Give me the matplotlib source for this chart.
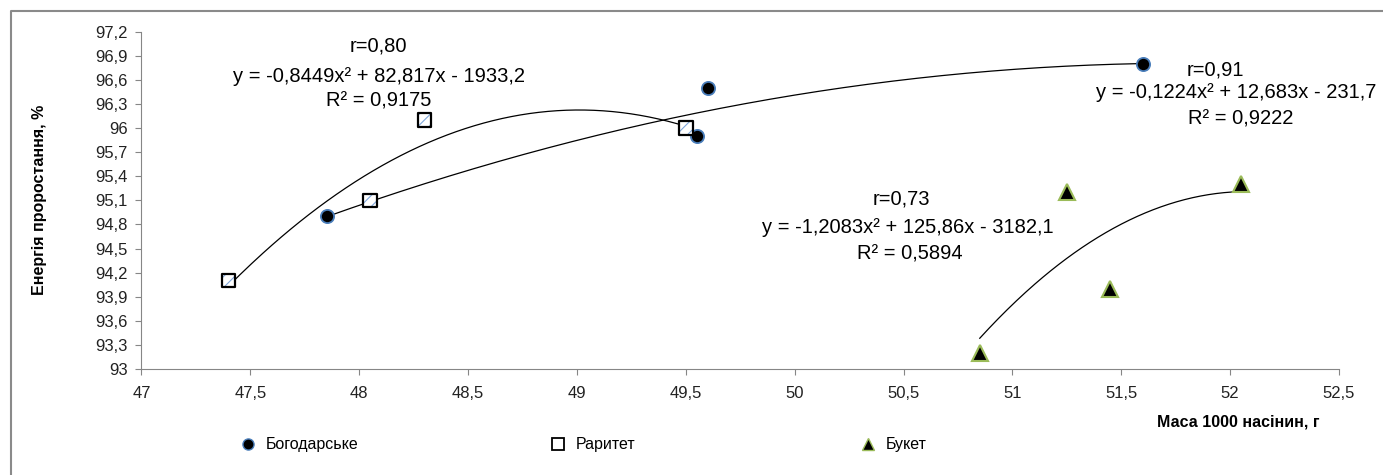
import numpy as np
import matplotlib
matplotlib.use('Agg')
import matplotlib.pyplot as plt
from matplotlib.lines import Line2D

plt.rcParams['font.family'] = ['Liberation Sans', 'DejaVu Sans']
plt.rcParams['hatch.linewidth'] = 0.8

# data
names = ['Богодарське', 'Раритет', 'Букет']
bog_x = [47.85, 49.55, 49.6, 51.6]
bog_y = [94.9, 95.9, 96.5, 96.8]
rar_x = [47.4, 48.05, 48.3, 49.5]
rar_y = [94.1, 95.1, 96.1, 96.0]
buk_x = [50.85, 51.25, 51.45, 52.05]
buk_y = [93.2, 95.2, 94.0, 95.3]

labels_r = ['r=0,91', 'r=0,80', 'r=0,73']
labels_eq = ['y = -0,1224x² + 12,683x - 231,7',
             'y = -0,8449x² + 82,817x - 1933,2',
             'y = -1,2083x² + 125,86x - 3182,1']
labels_r2 = ['R² = 0,9222', 'R² = 0,9175', 'R² = 0,5894']

yticks = np.round(np.arange(93, 97.21, 0.3), 1)
xticks = np.arange(47, 52.51, 0.5)

fig = plt.figure(figsize=(13.83, 4.75), dpi=100)
ax = fig.add_axes([0.1023, 0.2232, 0.8659, 0.7101])

# trend lines (2nd order polynomial, like excel)
for xs, ys in [(bog_x, bog_y), (rar_x, rar_y), (buk_x, buk_y)]:
    p = np.polyfit(xs, ys, 2)
    xx = np.linspace(min(xs), max(xs), 200)
    ax.plot(xx, np.polyval(p, xx), color='black', lw=0.9, zorder=2)

# markers
ax.plot(bog_x, bog_y, 'o', ms=9.5, mfc='black', mec='#4a7ebb', mew=1.3, zorder=4)
ax.scatter(rar_x, rar_y, marker='s', s=95, facecolor='white', edgecolor='#7ea6da',
           hatch='///', linewidths=0.3, zorder=4)
ax.scatter(rar_x, rar_y, marker='s', s=95, facecolor='none', edgecolor='black',
           linewidths=1.6, zorder=5)
ax.plot(buk_x, buk_y, '^', ms=11, mfc='black', mec='#9bbb59', mew=1.5, zorder=4)

ax.set_xlim(47, 52.5)
ax.set_ylim(93, 97.2)
ax.set_xticks(xticks)
ax.set_xticklabels([f'{v:g}'.replace('.', ',') for v in xticks])
ax.set_yticks(yticks)
ax.set_yticklabels([f'{v:g}'.replace('.', ',') for v in yticks])
ax.tick_params(labelsize=12, length=4, color='#868686', labelcolor='#222222', pad=6)
ax.tick_params(axis='x', pad=8)
for s in ['top', 'right']:
    ax.spines[s].set_visible(False)
for s in ['left', 'bottom']:
    ax.spines[s].set_color('#868686')

# equations
txt_pos = [((51.93, 96.72), (52.03, 96.44), (52.05, 96.11)),
           ((48.09, 97.02), (48.09, 96.64), (48.09, 96.34)),
           ((50.49, 95.12), (50.52, 94.76), (50.53, 94.43))]
for i in range(3):
    ax.text(*txt_pos[i][0], labels_r[i], ha='center', va='center', fontsize=14.5)
    ax.text(*txt_pos[i][1], labels_eq[i], ha='center', va='center', fontsize=14.5)
    ax.text(*txt_pos[i][2], labels_r2[i], ha='center', va='center', fontsize=14.5)

fig.text(40 / 1383, 1 - 200 / 475, 'Енергія проростання, %', rotation=90,
         ha='center', va='center', fontsize=11.5, fontweight='bold')
fig.text(1238 / 1383, 1 - 422 / 475, 'Маса 1000 насінин, г',
         ha='center', va='center', fontsize=11.5, fontweight='bold')

# legend, one entry per block like excel
handles = [Line2D([], [], marker='o', ls='', ms=8, mfc='black', mec='#4a7ebb'),
           Line2D([], [], marker='s', ls='', ms=8, mfc='white', mec='black', mew=1.3),
           Line2D([], [], marker='^', ls='', ms=8, mfc='black', mec='#9bbb59')]
leg_x = [240, 550, 860]
for h, n, lx in zip(handles, names, leg_x):
    lg = fig.legend([h], [n], loc='center left', bbox_to_anchor=(lx / 1383, 1 - 445 / 475),
                    frameon=False, fontsize=11.5, handlelength=1, handletextpad=0.6,
                    borderpad=0, borderaxespad=0)

# chart frame (top and left edges visible)
fig.add_artist(Line2D([11 / 1383, 11 / 1383, 1], [0, 1 - 11 / 475, 1 - 11 / 475],
                      transform=fig.transFigure, color='#8a8a8a', lw=1.5))

fig.savefig('out.png', dpi=100)
